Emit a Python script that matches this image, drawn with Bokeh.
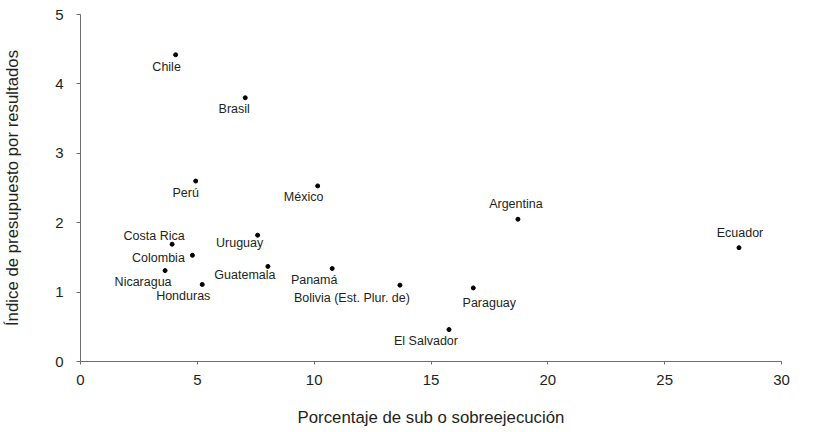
from bokeh.plotting import figure
from bokeh.models import ColumnDataSource, Range1d, FixedTicker
from bokeh.core.properties import value
from bokeh.embed import file_html
from bokeh.resources import INLINE

paises = ["Chile", "Brasil", "Perú", "México", "Argentina", "Ecuador", "Costa Rica",
          "Uruguay", "Colombia", "Nicaragua", "Guatemala", "Honduras", "Panamá",
          "Bolivia (Est. Plur. de)", "Paraguay", "El Salvador"]
porcentaje = [4.07, 7.05, 4.93, 10.15, 18.72, 28.18, 3.92, 7.58, 4.79, 3.62, 8.02, 5.21,
              10.77, 13.67, 16.81, 15.77]
indice = [4.42, 3.80, 2.60, 2.53, 2.05, 1.64, 1.69, 1.82, 1.53, 1.31, 1.37, 1.11,
          1.34, 1.10, 1.06, 0.46]
x_ticks = [0, 5, 10, 15, 20, 25, 30]
y_ticks = [0, 1, 2, 3, 4, 5]

# label placement (screen pixels, relative to each point)
lab_dx = [-9, -11, -10, -14, -2, 1, -18, -18, -34, -22, -23, -19, -18, -48, 16, -23]
lab_dy = [12, 11, 12, 11, -15, -15, -8, 8, 3, 11, 9, 12, 11, 13, 15, 11]

FONT = "Liberation Sans"
TXT = "#231f20"
AX = "#6d6e71"

src = ColumnDataSource(dict(x=porcentaje, y=indice, name=paises, dx=lab_dx, dy=lab_dy))

p = figure(width=814, height=432, output_backend="svg", toolbar_location=None,
           x_range=Range1d(0, 30), y_range=Range1d(0, 5),
           min_border_left=80, min_border_right=33, min_border_top=14, min_border_bottom=71)
p.outline_line_color = None
p.grid.visible = False
p.background_fill_color = "white"
p.border_fill_color = "white"

p.scatter("x", "y", source=src, size=4, color="black")
p.text("x", "y", text="name", source=src, x_offset="dx", y_offset="dy",
       text_align="center", text_baseline="middle",
       text_font=value(FONT), text_font_size="12.5px", text_color=TXT)

for ax in (p.xaxis[0], p.yaxis[0]):
    ax.axis_line_color = AX
    ax.major_tick_line_color = AX
    ax.minor_tick_line_color = None
    ax.major_tick_in = 0
    ax.major_label_text_font = FONT
    ax.major_label_text_font_size = "15px"
    ax.major_label_text_color = TXT
    ax.axis_label_text_font = FONT
    ax.axis_label_text_font_size = "16.8px"
    ax.axis_label_text_font_style = "normal"
    ax.axis_label_text_color = TXT

p.xaxis.ticker = FixedTicker(ticks=x_ticks)
p.yaxis.ticker = FixedTicker(ticks=y_ticks)
p.xaxis.major_tick_out = 3
p.yaxis.major_tick_out = 4
p.xaxis.major_label_standoff = 10
p.yaxis.major_label_standoff = 13
p.xaxis.axis_label = "Porcentaje de sub o sobreejecución"
p.yaxis.axis_label = "Índice de presupuesto por resultados"
p.xaxis.axis_label_standoff = 20
p.yaxis.axis_label_standoff = 30

open("out.html", "w").write(file_html(p, INLINE))
